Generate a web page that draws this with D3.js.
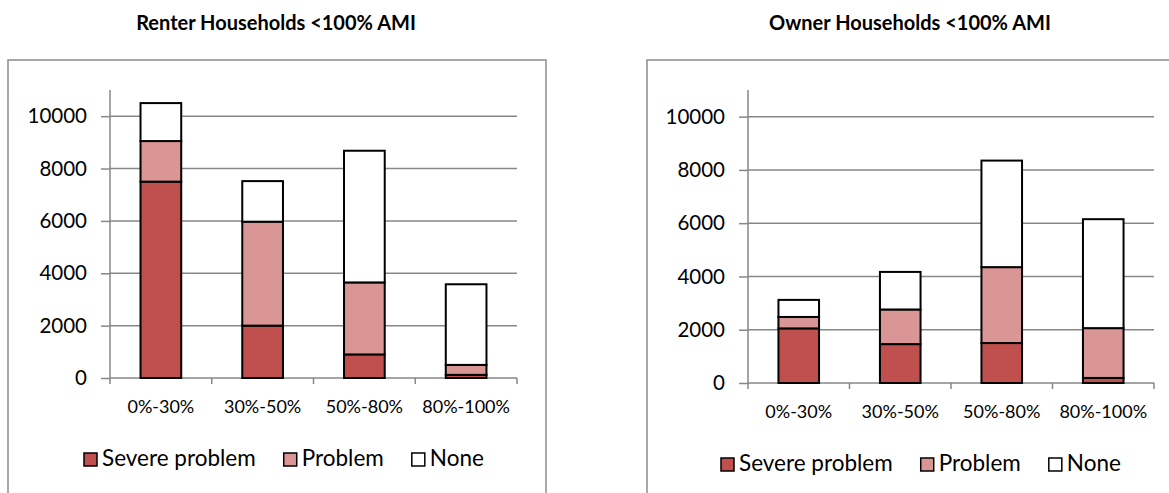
<!DOCTYPE html>
<html>
<head>
<meta charset="utf-8">
<script src="https://cdn.jsdelivr.net/npm/d3@7"></script>
<style>
  html, body { margin: 0; padding: 0; background: #fff; }
  svg { display: block; font-family: Lato, "Liberation Sans", sans-serif; }
</style>
</head>
<body>
<svg id="chart" width="1169" height="493"></svg>
<script>
// Income bands (share of area median income)
const categories = ["0%-30%", "30%-50%", "50%-80%", "80%-100%"];
const seriesNames = ["Severe problem", "Problem", "None"];
const yTicks = [0, 2000, 4000, 6000, 8000, 10000];

// Renter households by housing-problem status
const renterSevere  = [7500, 2000, 900, 120];
const renterProblem = [1550, 3970, 2750, 380];
const renterNone    = [1450, 1550, 5030, 3080];

// Owner households by housing-problem status
const ownerSevere  = [2050, 1460, 1500, 190];
const ownerProblem = [430, 1300, 2850, 1870];
const ownerNone    = [640, 1410, 4000, 4090];

const colors = ["#C0504D", "#D99694", "#FFFFFF"];

const svg = d3.select("#chart");

function panel(cfg) {
  const g = svg.append("g");

  // outer chart frame
  g.append("rect")
    .attr("x", cfg.frame[0]).attr("y", cfg.frame[1])
    .attr("width", cfg.frame[2]).attr("height", cfg.frame[3])
    .attr("fill", "none").attr("stroke", "#8c8c8c").attr("stroke-width", 1.5);

  g.append("text")
    .attr("x", cfg.titleX).attr("y", 30)
    .attr("text-anchor", "middle")
    .attr("font-weight", "bold").attr("font-size", 20)
    .attr("fill", "#000")
    .text(cfg.title);

  const x = d3.scaleBand().domain(categories).range([cfg.x0, cfg.x1]).paddingInner(0.6).paddingOuter(0.3);
  const y = d3.scaleLinear().domain([0, 11000]).range([cfg.y0, 90]);

  // horizontal gridlines
  g.append("g").selectAll("line").data(yTicks.slice(1)).join("line")
    .attr("x1", cfg.x0).attr("x2", cfg.x1)
    .attr("y1", d => y(d)).attr("y2", d => y(d))
    .attr("stroke", "#878787").attr("stroke-width", 1.5);

  // y axis
  const yAxis = g.append("g").attr("transform", `translate(${cfg.x0},0)`)
    .call(d3.axisLeft(y).tickValues(yTicks).tickSize(9).tickPadding(14).tickFormat(d3.format("d")));
  yAxis.select(".domain").attr("stroke", "#878787").attr("stroke-width", 1.5).attr("d", `M0,${y(11000)}V${cfg.y0}`);
  yAxis.selectAll(".tick line").attr("stroke", "#878787").attr("stroke-width", 1.5);
  yAxis.selectAll(".tick text").attr("font-size", 20.5).attr("fill", "#000").attr("font-family", "Lato, sans-serif");

  // x axis with ticks at category boundaries
  const bounds = d3.range(categories.length + 1).map(i => cfg.x0 + i * (cfg.x1 - cfg.x0) / categories.length);
  g.append("line").attr("x1", cfg.x0).attr("x2", cfg.x1).attr("y1", cfg.y0).attr("y2", cfg.y0)
    .attr("stroke", "#878787").attr("stroke-width", 1.5);
  g.append("g").selectAll("line").data(bounds).join("line")
    .attr("x1", d => d).attr("x2", d => d).attr("y1", cfg.y0).attr("y2", cfg.y0 + 6)
    .attr("stroke", "#878787").attr("stroke-width", 1.5);
  g.append("g").selectAll("text").data(categories).join("text")
    .attr("x", d => x(d) + x.bandwidth() / 2).attr("y", cfg.y0 + 35)
    .attr("text-anchor", "middle").attr("font-size", 18).attr("fill", "#000")
    .text(d => d);

  // stacked bars
  const rows = categories.map((c, i) => ({
    cat: c, "Severe problem": cfg.data[0][i], "Problem": cfg.data[1][i], "None": cfg.data[2][i]
  }));
  const stacked = d3.stack().keys(seriesNames)(rows);
  g.append("g").selectAll("g").data(stacked).join("g")
    .attr("fill", (d, i) => colors[i])
    .selectAll("rect").data(d => d).join("rect")
      .attr("x", d => x(d.data.cat))
      .attr("width", x.bandwidth())
      .attr("y", d => y(d[1]))
      .attr("height", d => y(d[0]) - y(d[1]))
      .attr("stroke", "#000").attr("stroke-width", 2);

  // legend
  const lg = g.append("g").attr("transform", `translate(${cfg.legendX},${cfg.legendY})`);
  let offset = 0;
  seriesNames.forEach((name, i) => {
    const item = lg.append("g").attr("transform", `translate(${offset},0)`);
    item.append("rect").attr("x", 0).attr("y", -13).attr("width", 13).attr("height", 13)
      .attr("fill", colors[i]).attr("stroke", "#000").attr("stroke-width", 1.5);
    const t = item.append("text").attr("x", 18).attr("y", 0).attr("font-size", 22.5).attr("fill", "#000").text(name);
    offset += 18 + t.node().getComputedTextLength() + cfg.legendGap;
  });
}

panel({
  title: "Renter Households <100% AMI", titleX: 276,
  frame: [8, 60, 538, 450],
  x0: 110, x1: 517, y0: 378,
  data: [renterSevere, renterProblem, renterNone],
  legendX: 84, legendY: 466, legendGap: 28
});

panel({
  title: "Owner Households <100% AMI", titleX: 910,
  frame: [647, 60, 540, 450],
  x0: 748, x1: 1154, y0: 383,
  data: [ownerSevere, ownerProblem, ownerNone],
  legendX: 721, legendY: 471, legendGap: 28
});
</script>
</body>
</html>
